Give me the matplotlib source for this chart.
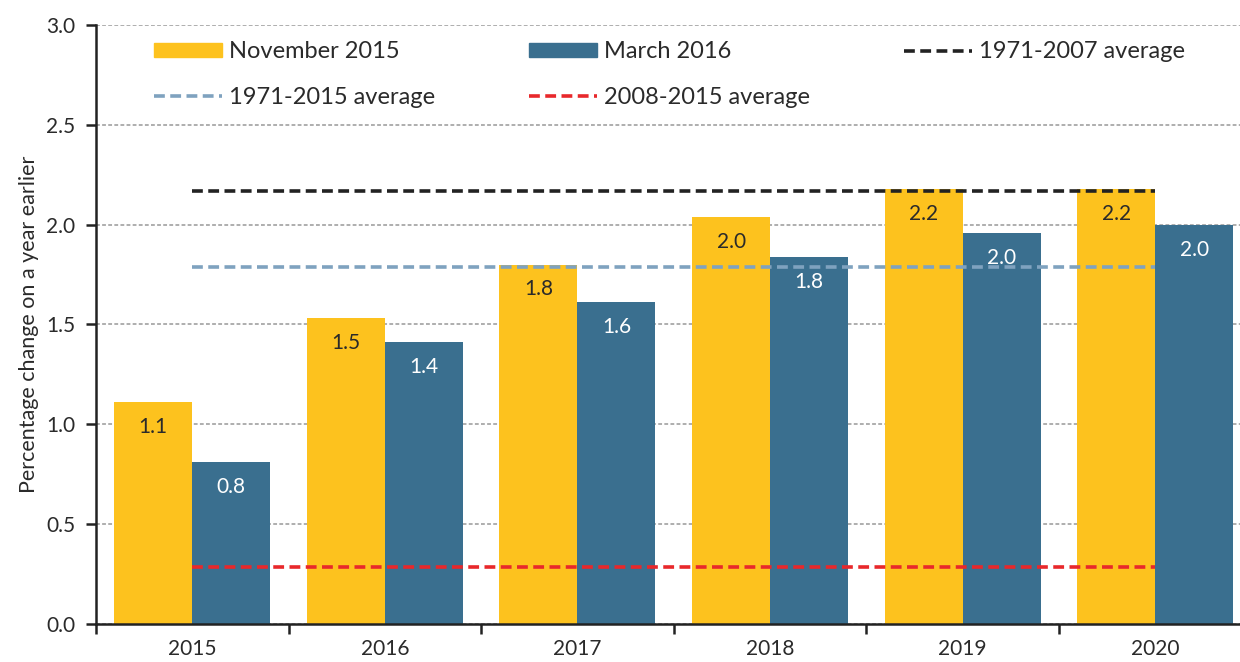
import matplotlib
matplotlib.use("Agg")
import matplotlib.pyplot as plt
import numpy as np
from matplotlib.patches import Patch
from matplotlib.lines import Line2D

plt.rcParams['font.family'] = ['Lato', 'DejaVu Sans']

years = ["2015", "2016", "2017", "2018", "2019", "2020"]
nov_2015 = [1.11, 1.53, 1.80, 2.04, 2.18, 2.18]
mar_2016 = [0.81, 1.41, 1.61, 1.84, 1.96, 2.00]
nov_labels = ["1.1", "1.5", "1.8", "2.0", "2.2", "2.2"]
mar_labels = ["0.8", "1.4", "1.6", "1.8", "2.0", "2.0"]
avg_1971_2007 = 2.17
avg_1971_2015 = 1.79
avg_2008_2015 = 0.285

yellow = "#FDC21E"
blue = "#3A6F8F"
light_blue = "#7FA2BF"
black = "#222222"
red = "#E8282B"
txt = "#2a2a2a"

fig = plt.figure(figsize=(12.4, 6.62), dpi=100)
ax = fig.add_axes([0.0774, 0.0574, 1 - 0.0774, 0.905])

x = np.arange(len(years))
w = 0.405
ax.bar(x - w / 2, nov_2015, w, color=yellow, zorder=2)
ax.bar(x + w / 2, mar_2016, w, color=blue, zorder=2)

for xi, v, s in zip(x, nov_2015, nov_labels):
    ax.text(xi - w / 2, v - 0.125, s, ha="center", va="center",
            fontsize=15, color=txt, zorder=4)
for xi, v, s in zip(x, mar_2016, mar_labels):
    ax.text(xi + w / 2, v - 0.125, s, ha="center", va="center",
            fontsize=15, color="white", zorder=4)

lw_avg = 2.6
dash = (0, (3, 1.5))
ax.plot([x[0], x[-1]], [avg_1971_2007] * 2, color=black, ls=dash, lw=lw_avg, zorder=3)
ax.plot([x[0], x[-1]], [avg_1971_2015] * 2, color=light_blue, ls=dash, lw=lw_avg, zorder=3)
ax.plot([x[0], x[-1]], [avg_2008_2015] * 2, color=red, ls=dash, lw=lw_avg, zorder=3)

ax.set_yticks(np.arange(0, 3.01, 0.5))
ax.set_yticklabels(["%.1f" % t for t in np.arange(0, 3.01, 0.5)], fontsize=15, color=txt)
ax.yaxis.grid(True, color="#999999", ls=(0, (2.5, 1.5)), lw=1.1, zorder=0)
ax.set_axisbelow(True)

ax.set_xticks(np.arange(-0.5, 5.6, 1.0))
ax.set_xticklabels([])
ax.set_xticks(x, minor=True)
ax.set_xticklabels(years, minor=True, fontsize=15, color=txt)
ax.tick_params(axis="x", which="minor", length=0, pad=11)
ax.tick_params(axis="x", which="major", length=7, width=1.8, color=black)
ax.tick_params(axis="y", length=7, width=1.8, color=black, pad=8)

ax.set_ylim(0, 3.0)
ax.set_xlim(-0.5, 5.44)

for s in ["top", "right"]:
    ax.spines[s].set_visible(False)
for s in ["left", "bottom"]:
    ax.spines[s].set_linewidth(1.8)
    ax.spines[s].set_color(black)

ax.set_ylabel("Percentage change on a year earlier", fontsize=15.5, color=txt, labelpad=5)

handles = [
    Patch(color=yellow, label="November 2015"),
    Line2D([], [], color=light_blue, ls=dash, lw=lw_avg, label="1971-2015 average"),
    Patch(color=blue, label="March 2016"),
    Line2D([], [], color=red, ls=dash, lw=lw_avg, label="2008-2015 average"),
    Line2D([], [], color=black, ls=dash, lw=lw_avg, label="1971-2007 average"),
]
leg = ax.legend(handles=handles, ncol=3, frameon=False, fontsize=17,
                loc="upper left", bbox_to_anchor=(0.032, 1.008),
                handlelength=2.9, handleheight=0.55, handletextpad=0.3,
                columnspacing=3.95, labelspacing=1.05)
for t in leg.get_texts():
    t.set_color(txt)

fig.savefig("out.png", dpi=100)
